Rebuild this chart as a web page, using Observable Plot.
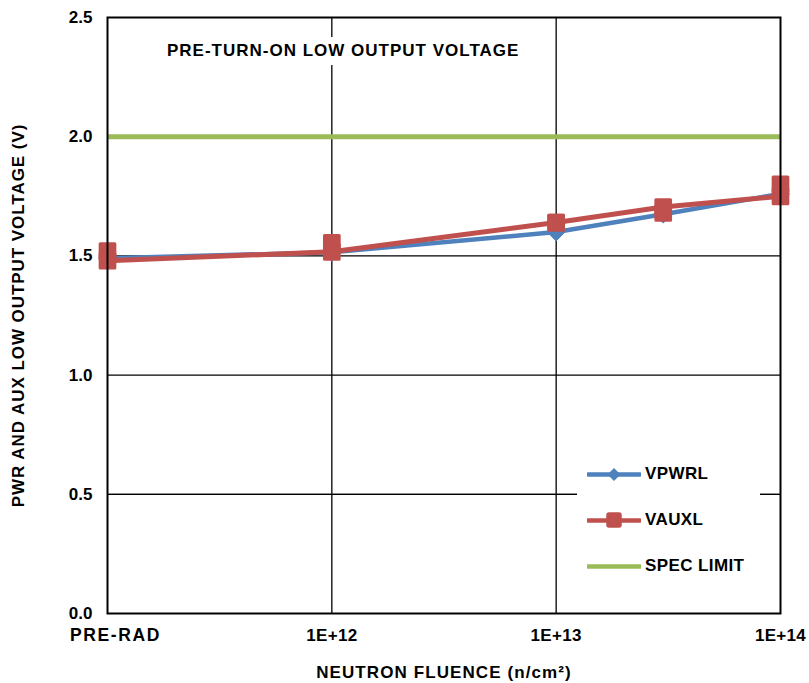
<!DOCTYPE html>
<html>
<head>
<meta charset="utf-8">
<script src="https://cdn.jsdelivr.net/npm/d3@7"></script>
<script src="https://cdn.jsdelivr.net/npm/@observablehq/plot@0.6"></script>
<style>
  html, body { margin: 0; padding: 0; background: #fff; }
  #wrap { position: relative; width: 809px; height: 683px; font-family: "Liberation Sans", Arial, sans-serif; font-weight: bold; }
  #title { position: absolute; left: 155px; top: 37px; width: 380px; height: 28px; background: #fff;
           font-size: 17px; line-height: 28px; padding-left: 12px; box-sizing: border-box; letter-spacing: 1px; }
  #legend { position: absolute; left: 577px; top: 452px; width: 183px; height: 136px; background: #fff; }
  .row { position: absolute; left: 10px; height: 20px; display: flex; align-items: center; font-size: 17px; letter-spacing: 0.4px; }
  .row svg { margin-right: 4px; }
  #chart g[aria-label="x-axis tick label"] text { font-size: 17px; letter-spacing: 0.3px; }
  #chart g[aria-label="x-axis label"] text { font-size: 17px; letter-spacing: 1.1px; }
  #chart g[aria-label="y-axis label"] text { font-size: 17px; letter-spacing: 0.95px; }
  #chart g[aria-label="y-axis tick label"] text { font-size: 17px; }
</style>
</head>
<body>
<div id="wrap">
  <div id="chart"></div>
  <div id="title"></div>
  <div id="legend"></div>
</div>
<script>
// ---- data ----
const fluenceLabels = ["PRE-RAD", "1E+12", "1E+13", "3E+13", "1E+14"];
const fluence = [1e11, 1e12, 1e13, 3e13, 1e14]; // PRE-RAD shown at the 1E+11 axis position
const vpwrl = [1.49, 1.515, 1.60, 1.675, 1.76];
const vauxl = [1.48, 1.517, 1.64, 1.705, 1.75];
const vauxlRepeat = [1.52, 1.555, 1.64, 1.68, 1.80];
const specLimit = 2.0;
const xTicks = [1e11, 1e12, 1e13, 1e14];
const xTickLabels = ["PRE-RAD", "1E+12", "1E+13", "1E+14"];
const yTicks = [0, 0.5, 1.0, 1.5, 2.0, 2.5];
const yGrid = [0.5, 1.0, 1.5];
const xGrid = [1e12, 1e13];
const titleText = "PRE-TURN-ON LOW OUTPUT VOLTAGE";
const xLabel = "NEUTRON FLUENCE (n/cm²)";
const yLabel = "PWR AND AUX LOW OUTPUT VOLTAGE (V)";
const seriesNames = ["VPWRL", "VAUXL", "SPEC LIMIT"];
const colors = { VPWRL: "#4F81BD", VAUXL: "#C0504D", "SPEC LIMIT": "#9BBB59" };

const rows = fluence.map((f, i) => ({ f, label: fluenceLabels[i], vpwrl: vpwrl[i], vauxl: vauxl[i], vauxlRepeat: vauxlRepeat[i] }));

const chart = Plot.plot({
  width: 809,
  height: 683,
  marginLeft: 107,
  marginRight: 29,
  marginTop: 17,
  marginBottom: 70,
  style: { fontFamily: "'Liberation Sans', Arial, sans-serif", fontWeight: "bold", fontSize: "17px", color: "#000", background: "#fff" },
  x: { type: "log", domain: [1e11, 1e14] },
  y: { domain: [0, 2.5] },
  marks: [
    Plot.ruleX(xGrid, { stroke: "#000", strokeWidth: 1.3 }),
    Plot.ruleY(yGrid, { stroke: "#000", strokeWidth: 1.3 }),
    Plot.ruleY([0.5], { stroke: "#000", strokeWidth: 1.3 }),
    Plot.ruleY([specLimit], { stroke: colors["SPEC LIMIT"], strokeWidth: 5 }),
    Plot.line(rows, { x: "f", y: "vpwrl", stroke: colors.VPWRL, strokeWidth: 4.5 }),
    Plot.dot(rows, { x: "f", y: "vpwrl", symbol: "diamond2", r: 8, fill: colors.VPWRL, stroke: colors.VPWRL, strokeWidth: 1 }),
    Plot.line(rows, { x: "f", y: "vauxl", stroke: colors.VAUXL, strokeWidth: 5 }),
    Plot.dot(rows, { x: "f", y: "vauxlRepeat", symbol: "square", r: 8.3, fill: colors.VAUXL, stroke: colors.VAUXL, strokeWidth: 3, strokeLinejoin: "round" }),
    Plot.dot(rows, { x: "f", y: "vauxl", symbol: "square", r: 8.3, fill: colors.VAUXL, stroke: colors.VAUXL, strokeWidth: 3, strokeLinejoin: "round" }),
    Plot.frame({ stroke: "#000", strokeWidth: 2 }),
    Plot.axisX({ ticks: xTicks, tickFormat: (d) => xTickLabels[xTicks.indexOf(d)], tickSize: 0, tickPadding: 15,
                 label: xLabel, labelAnchor: "center", labelOffset: 64, labelArrow: "none" }),
    Plot.axisY({ ticks: yTicks, tickFormat: (d) => d.toFixed(1), tickSize: 0, tickPadding: 15,
                 label: yLabel, labelAnchor: "center", labelOffset: 96, labelArrow: "none" })
  ]
});
document.getElementById("chart").appendChild(chart);

// the category label at the left edge is set wider and slightly right, as in the original
d3.select(chart).selectAll('g[aria-label="x-axis tick label"] text')
  .filter(function () { return this.textContent === xTickLabels[0]; })
  .style("font-size", "17.5px")
  .style("letter-spacing", "1.6px")
  .attr("dx", 8);

// title box
document.getElementById("title").textContent = titleText;

// legend
const legend = document.getElementById("legend");
const rowTops = [12, 58, 104];
seriesNames.forEach((name, i) => {
  const row = document.createElement("div");
  row.className = "row";
  row.style.top = rowTops[i] + "px";
  const c = colors[name];
  let marker = "";
  if (name === "VPWRL") marker = `<path d="M27,3 L33.5,9.5 L27,16 L20.5,9.5 Z" fill="${c}"/>`;
  if (name === "VAUXL") marker = `<rect x="20" y="2" width="14" height="14" rx="2" fill="${c}" stroke="${c}" stroke-width="1.5"/>`;
  row.innerHTML = `<svg width="54" height="19"><line x1="1" y1="9.5" x2="53" y2="9.5" stroke="${c}" stroke-width="4.5" stroke-linecap="round"/>${marker}</svg><span>${name}</span>`;
  legend.appendChild(row);
});
</script>
</body>
</html>
